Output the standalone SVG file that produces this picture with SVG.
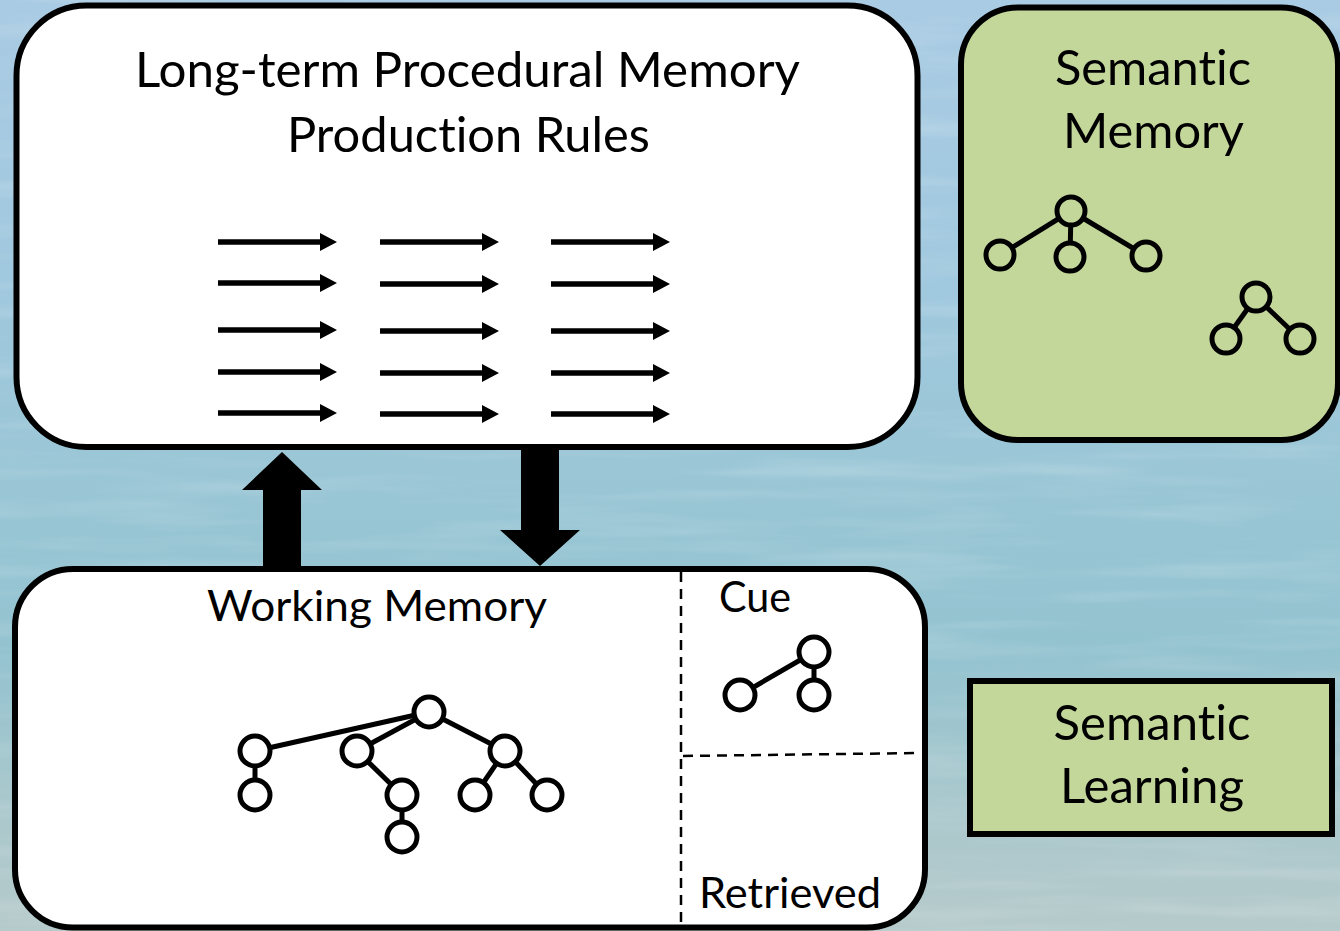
<svg xmlns="http://www.w3.org/2000/svg" width="1340" height="931" viewBox="0 0 1340 931">
  <defs>
    <linearGradient id="sky" x1="0" y1="0" x2="0" y2="1">
      <stop offset="0" stop-color="#a9cbe3"/>
      <stop offset="0.3" stop-color="#a0c8de"/>
      <stop offset="0.5" stop-color="#9ac6d6"/>
      <stop offset="0.7" stop-color="#94c3d0"/>
      <stop offset="0.88" stop-color="#abc8cc"/>
      <stop offset="1" stop-color="#b6cacb"/>
    </linearGradient>
    <filter id="ripple" x="0" y="0" width="100%" height="100%">
      <feTurbulence type="fractalNoise" baseFrequency="0.004 0.05" numOctaves="3" seed="7" result="n"/>
      <feColorMatrix in="n" type="matrix" values="0 0 0 0 1  0 0 0 0 1  0 0 0 0 1  0 0 0 1.2 -0.55"/>
    </filter>
    <!-- one production rule: shaft plus solid head, drawn from its tail at (0,0) -->
    <path id="rule" d="M0,-2.8 H102 V-9 L119,0 L102,9 V2.8 H0 Z"/>
  </defs>
  <style>
    .box { stroke: #000; stroke-width: 6; }
    .label { font-family: Lato, "Open Sans", "Liberation Sans", sans-serif; fill: #000; text-anchor: middle; font-variant-ligatures: none; font-feature-settings: "liga" 0, "clig" 0; }
    .big { font-size: 48px; }
    .mid { font-size: 43px; }
    .edge { stroke: #000; stroke-width: 5; fill: none; }
    .node { stroke: #000; stroke-width: 5; }
    .divider { stroke: #000; stroke-width: 2.5; stroke-dasharray: 10 7; fill: none; }
    .bigarrow { fill: #000; }
    .white { fill: #ffffff; }
    .green { fill: #c4d79b; }
  </style>

  <!-- background -->
  <rect x="0" y="0" width="1340" height="931" fill="url(#sky)"/>
  <rect x="0" y="0" width="1340" height="931" filter="url(#ripple)" opacity="0.3"/>

  <!-- connectors between procedural and working memory -->
  <g id="connectors">
    <polygon class="bigarrow" points="263,569 263,490 242,490 282,452 322,490 301,490 301,569"/>
    <polygon class="bigarrow" points="521,447 521,530 500,530 540,566 580,530 559,530 559,447"/>
  </g>

  <!-- long-term procedural memory -->
  <g id="procedural-memory">
    <rect class="box white" x="16.5" y="5.5" width="901" height="441.5" rx="70" ry="70"/>
    <text class="label big" x="467.5" y="87" textLength="665" lengthAdjust="spacingAndGlyphs">Long-term Procedural Memory</text>
    <text class="label big" x="468.5" y="152" textLength="363" lengthAdjust="spacingAndGlyphs">Production Rules</text>
    <g id="rules" fill="#000">
      <use href="#rule" x="218" y="242"/>
      <use href="#rule" x="218" y="283"/>
      <use href="#rule" x="218" y="330"/>
      <use href="#rule" x="218" y="372"/>
      <use href="#rule" x="218" y="413"/>
      <use href="#rule" x="380" y="242"/>
      <use href="#rule" x="380" y="284"/>
      <use href="#rule" x="380" y="331"/>
      <use href="#rule" x="380" y="373"/>
      <use href="#rule" x="380" y="414"/>
      <use href="#rule" x="551" y="242"/>
      <use href="#rule" x="551" y="284"/>
      <use href="#rule" x="551" y="331"/>
      <use href="#rule" x="551" y="373"/>
      <use href="#rule" x="551" y="414"/>
    </g>
  </g>

  <!-- semantic memory store -->
  <g id="semantic-memory">
    <rect class="box green" x="961" y="7.5" width="377" height="432.5" rx="57" ry="57"/>
    <text class="label big" x="1153" y="85" textLength="196" lengthAdjust="spacingAndGlyphs">Semantic</text>
    <text class="label big" x="1153.5" y="148" textLength="181" lengthAdjust="spacingAndGlyphs">Memory</text>
    <g id="sm-tree-a">
      <line class="edge" x1="1071" y1="211" x2="1000" y2="255"/>
      <line class="edge" x1="1071" y1="211" x2="1070" y2="257"/>
      <line class="edge" x1="1071" y1="211" x2="1146" y2="256"/>
      <circle class="node green" cx="1071" cy="211" r="14"/>
      <circle class="node green" cx="1000" cy="255" r="14"/>
      <circle class="node green" cx="1070" cy="257" r="14"/>
      <circle class="node green" cx="1146" cy="256" r="14"/>
    </g>
    <g id="sm-tree-b">
      <line class="edge" x1="1256" y1="297" x2="1226" y2="339"/>
      <line class="edge" x1="1256" y1="297" x2="1300" y2="339"/>
      <circle class="node green" cx="1256" cy="297" r="14"/>
      <circle class="node green" cx="1226" cy="339" r="14"/>
      <circle class="node green" cx="1300" cy="339" r="14"/>
    </g>
  </g>

  <!-- working memory with cue / retrieved buffers -->
  <g id="working-memory">
    <rect class="box white" x="15" y="569" width="910" height="358.5" rx="58" ry="58"/>
    <text class="label mid" x="377" y="621" textLength="340" lengthAdjust="spacingAndGlyphs">Working Memory</text>
    <g id="wm-tree">
      <line class="edge" x1="429" y1="712" x2="255" y2="751"/>
      <line class="edge" x1="429" y1="712" x2="357" y2="751"/>
      <line class="edge" x1="429" y1="712" x2="505" y2="751"/>
      <line class="edge" x1="255" y1="751" x2="255" y2="795"/>
      <line class="edge" x1="357" y1="751" x2="402" y2="795"/>
      <line class="edge" x1="402" y1="795" x2="402" y2="837"/>
      <line class="edge" x1="505" y1="751" x2="475" y2="795"/>
      <line class="edge" x1="505" y1="751" x2="547" y2="795"/>
      <circle class="node white" cx="429" cy="712" r="15"/>
      <circle class="node white" cx="255" cy="751" r="15"/>
      <circle class="node white" cx="255" cy="795" r="15"/>
      <circle class="node white" cx="357" cy="751" r="15"/>
      <circle class="node white" cx="402" cy="795" r="15"/>
      <circle class="node white" cx="402" cy="837" r="15"/>
      <circle class="node white" cx="505" cy="751" r="15"/>
      <circle class="node white" cx="475" cy="795" r="15"/>
      <circle class="node white" cx="547" cy="795" r="15"/>
    </g>
    <line class="divider" x1="681" y1="572" x2="681" y2="926"/>
    <line class="divider" x1="683" y1="756" x2="921" y2="753"/>
    <text class="label mid" x="755" y="612" textLength="72" lengthAdjust="spacingAndGlyphs">Cue</text>
    <g id="cue-tree">
      <line class="edge" x1="740" y1="695" x2="814" y2="652"/>
      <line class="edge" x1="814" y1="652" x2="814" y2="695"/>
      <circle class="node white" cx="814" cy="652" r="15"/>
      <circle class="node white" cx="814" cy="695" r="15"/>
      <circle class="node white" cx="740" cy="695" r="15"/>
    </g>
    <text class="label mid" x="790" y="908" textLength="182" lengthAdjust="spacingAndGlyphs">Retrieved</text>
  </g>

  <!-- semantic learning mechanism -->
  <g id="semantic-learning">
    <rect class="box green" x="970" y="681" width="362" height="153"/>
    <text class="label big" x="1152" y="740" textLength="197" lengthAdjust="spacingAndGlyphs">Semantic</text>
    <text class="label big" x="1152" y="803" textLength="184" lengthAdjust="spacingAndGlyphs">Learning</text>
  </g>
</svg>
